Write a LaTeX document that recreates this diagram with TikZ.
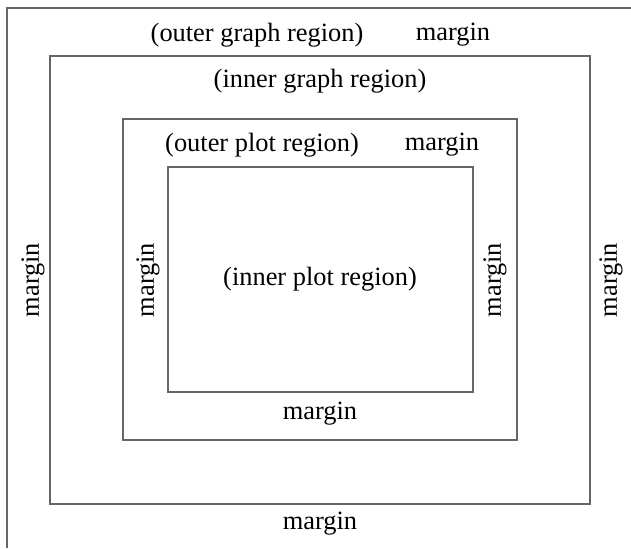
\documentclass[tikz,border=0pt]{standalone}
\usepackage{fontspec}
\setmainfont{Liberation Serif}
\begin{document}
\begin{tikzpicture}[x=0.5pt, y=-0.5pt, font=\fontsize{13.2}{15}\selectfont,
    frame/.style={draw=black!60, line width=0.6pt}]
      \useasboundingbox (0,0) rectangle (631,548);
      % frame and regions
      \draw[frame] (7,548) |- (631,8);
      \draw[frame] (50,56) rectangle (590,504);
      \draw[frame] (123,119) rectangle (517,440);
      \draw[frame] (168,167) rectangle (473,392);
      % labels
      \node (outergraph) at (257,35) {(outer graph region)};
      \node (topmargin) at (453,35) {margin};
      \node (innergraph) at (320,81) {(inner graph region)};
      \node (outerplot) at (262,145) {(outer plot region)};
      \node (plotmargin) at (442,145) {margin};
      \node (innerplot) at (320,279) {(inner plot region)};
      \node[rotate=90] (leftmargin) at (33,280) {margin};
      \node[rotate=90] (plotleft) at (148,280) {margin};
      \node[rotate=90] (plotright) at (495,280) {margin};
      \node[rotate=90] (rightmargin) at (611,280) {margin};
      \node (plotbottom) at (320,414) {margin};
      \node (bottommargin) at (320,524) {margin};
    \end{tikzpicture}
\end{document}
